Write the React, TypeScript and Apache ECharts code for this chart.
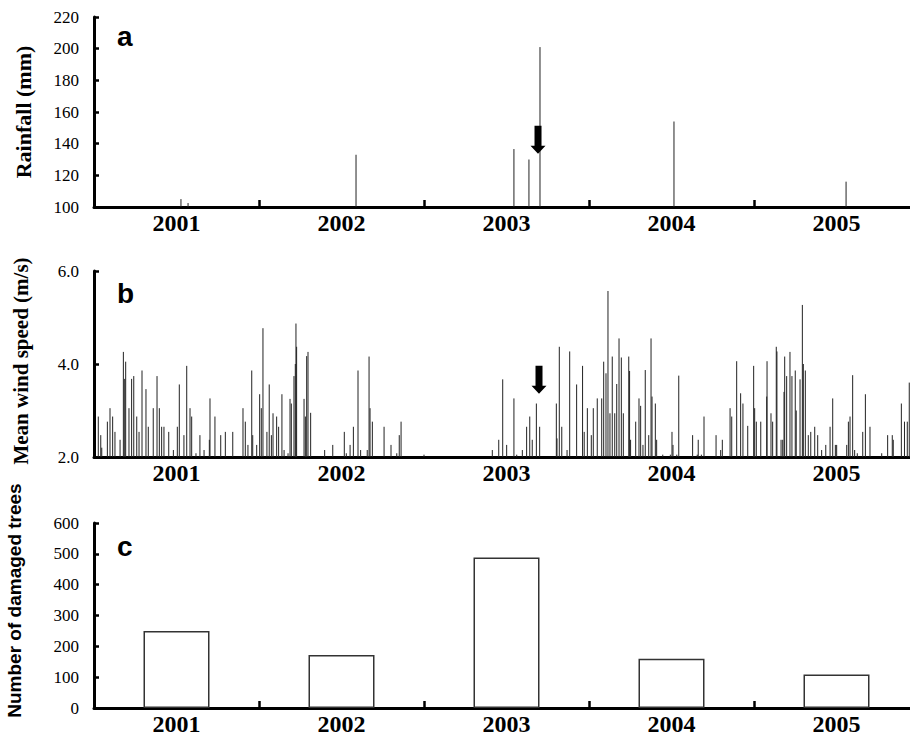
import React, { useEffect, useRef } from "react";
import * as echarts from "echarts";

// ---------- DATA ----------
const yearLabels = ["2001", "2002", "2003", "2004", "2005"];

// Panel a: daily rainfall above 100 mm (decimal year, mm)
const rainfallDates = [2001.527, 2001.57, 2002.588, 2003.545, 2003.636, 2003.703, 2004.515, 2005.558];
const rainfallValues = [105, 102.5, 133, 136.6, 130, 201, 154, 116];

// Panel b: daily mean wind speed above 2.0 m/s (decimal year, m/s)
const windDates = [
  2001.026, 2001.041, 2001.047, 2001.081, 2001.097, 2001.113, 2001.127, 2001.158, 2001.178, 2001.186,
  2001.192, 2001.212, 2001.228, 2001.241, 2001.259, 2001.273, 2001.291, 2001.315, 2001.329, 2001.359,
  2001.382, 2001.396, 2001.41, 2001.424, 2001.453, 2001.481, 2001.505, 2001.517, 2001.545, 2001.562,
  2001.582, 2001.592, 2001.618, 2001.642, 2001.667, 2001.699, 2001.703, 2001.733, 2001.768, 2001.796,
  2001.841, 2001.903, 2001.917, 2001.933, 2001.956, 2001.962, 2001.986, 2002.004, 2002.014, 2002.024,
  2002.048, 2002.062, 2002.075, 2002.085, 2002.107, 2002.119, 2002.139, 2002.152, 2002.176, 2002.188,
  2002.196, 2002.212, 2002.22, 2002.224, 2002.228, 2002.273, 2002.281, 2002.289, 2002.297, 2002.313,
  2002.398, 2002.447, 2002.517, 2002.529, 2002.552, 2002.572, 2002.6, 2002.616,
  2002.656, 2002.667, 2002.673, 2002.687, 2002.758, 2002.8, 2002.835, 2002.85, 2002.861, 2003.0,
  2003.414, 2003.453, 2003.477,
  2003.501, 2003.545, 2003.562, 2003.596, 2003.622, 2003.641, 2003.656, 2003.681, 2003.701, 2003.802,
  2003.806, 2003.82, 2003.835, 2003.867, 2003.883, 2003.925, 2003.961, 2003.971, 2003.99, 2004.014,
  2004.026, 2004.05, 2004.077, 2004.089, 2004.103, 2004.115, 2004.127, 2004.141, 2004.156, 2004.168,
  2004.182, 2004.196, 2004.208, 2004.241, 2004.246, 2004.252, 2004.283, 2004.303, 2004.313,
  2004.327, 2004.341, 2004.362, 2004.376, 2004.382, 2004.402, 2004.41, 2004.447, 2004.493, 2004.503,
  2004.509, 2004.532, 2004.544, 2004.628, 2004.656, 2004.662, 2004.681, 2004.697, 2004.77, 2004.798,
  2004.808, 2004.855, 2004.865, 2004.895, 2004.919, 2004.933, 2004.962, 2004.998, 2005.004, 2005.014,
  2005.041, 2005.077, 2005.079, 2005.103, 2005.113, 2005.135, 2005.139,
  2005.164, 2005.174, 2005.182, 2005.186, 2005.198, 2005.218, 2005.23, 2005.25, 2005.256, 2005.279,
  2005.293, 2005.299, 2005.311, 2005.329, 2005.344, 2005.368, 2005.386, 2005.41, 2005.435, 2005.461,
  2005.477, 2005.493, 2005.501, 2005.562, 2005.572, 2005.582, 2005.598, 2005.61, 2005.626, 2005.659,
  2005.675, 2005.703, 2005.774, 2005.81, 2005.838, 2005.844, 2005.893, 2005.912, 2005.929, 2005.941,
];
const windValues = [
  2.87, 2.47, 2.2, 2.76, 3.05, 2.87, 2.54, 2.37, 4.26, 3.68,
  4.05, 3.05, 3.68, 3.74, 2.87, 2.54, 3.86, 3.46, 2.65, 3.05,
  3.74, 3.05, 2.65, 2.65, 2.54, 2.15, 2.65, 3.56, 2.47, 3.96,
  3.05, 2.87, 2.08, 2.47, 2.15, 2.37, 3.26, 2.87, 2.47, 2.54,
  2.54, 3.05, 2.76, 2.26, 3.86, 2.47, 2.26, 3.35, 3.05, 4.77,
  2.54, 3.56, 2.47, 2.94, 2.87, 2.65, 3.35, 2.15, 2.08, 3.25,
  3.15, 3.74, 4.0, 4.87, 4.37, 3.25, 2.87, 4.17, 4.26, 2.95,
  2.15, 2.26, 2.54, 2.08, 2.26, 2.65, 3.86, 2.15,
  2.15, 4.16, 3.05, 2.76, 2.65, 2.26, 2.08, 2.47, 2.76, 2.05,
  2.15, 2.37, 3.67,
  2.26, 3.26, 2.05, 2.15, 2.65, 2.87, 2.37, 3.15, 2.65, 3.15,
  2.4, 4.37, 2.65, 2.15, 4.27, 3.56, 3.96, 2.54, 3.05, 2.47,
  3.05, 3.26, 3.26, 4.05, 3.8, 5.57, 2.94, 4.16, 2.94, 3.57,
  4.55, 4.14, 2.94, 4.16, 3.85, 2.37, 2.76, 3.26, 3.1,
  2.26, 3.87, 2.47, 4.55, 3.3, 3.15, 2.37, 2.05, 2.05, 2.54,
  2.26, 2.05, 3.75, 2.47, 2.05, 2.37, 2.05, 2.87, 2.47, 2.15,
  2.37, 3.05, 2.87, 4.06, 3.37, 3.15, 2.67, 3.96, 3.05, 2.76,
  2.76, 3.3, 4.06, 2.94, 2.76, 4.37, 4.27,
  2.37, 2.37, 3.4, 4.16, 3.74, 4.26, 3.74, 3.86, 3.0, 3.67,
  5.27, 4.0, 3.86, 2.47, 2.54, 2.65, 2.47, 2.15, 2.26, 2.65,
  3.26, 2.26, 2.26, 2.26, 2.76, 2.87, 3.76, 2.15, 2.08, 2.54,
  3.35, 2.65, 2.08, 2.47, 2.47, 2.37, 3.15, 2.76, 2.76, 3.6,
];

// Panel c: number of damaged trees per year
const damagedTrees = [250, 172, 488, 160, 109];

// Arrows (tip position, decimal year and axis value)
const arrowA = [2003.691, 133.7];
const arrowB = [2003.697, 3.36];

// ---------- HELPERS ----------
const SERIF = "'Liberation Serif', 'Times New Roman', serif";
const SANS = "'Liberation Sans', Arial, sans-serif";

function spikeSeries(xAxisIndex: number, yAxisIndex: number, dates: number[], values: number[], base: number) {
  return {
    type: "custom",
    xAxisIndex,
    yAxisIndex,
    clip: true,
    data: dates.map((d, i) => [d, values[i]]),
    encode: { x: 0, y: 1 },
    renderItem: (_params: any, api: any) => {
      const top = api.coord([api.value(0), api.value(1)]);
      const bottom = api.coord([api.value(0), base]);
      return {
        type: "line",
        shape: { x1: top[0], y1: top[1], x2: bottom[0], y2: bottom[1] },
        style: { stroke: "#222", lineWidth: 1 },
      };
    },
  };
}

function arrowSeries(xAxisIndex: number, yAxisIndex: number, tip: number[]) {
  return {
    type: "custom",
    xAxisIndex,
    yAxisIndex,
    data: [tip],
    encode: { x: 0, y: 1 },
    z: 5,
    renderItem: (_params: any, api: any) => {
      const p = api.coord([api.value(0), api.value(1)]);
      const cx = p[0];
      const ty = p[1];
      return {
        type: "polygon",
        shape: {
          points: [
            [cx - 3.5, ty - 28],
            [cx + 3.5, ty - 28],
            [cx + 3.5, ty - 8],
            [cx + 7.5, ty - 8],
            [cx, ty],
            [cx - 7.5, ty - 8],
            [cx - 3.5, ty - 8],
          ],
        },
        style: { fill: "#000" },
      };
    },
  };
}

function catAxis(gridIndex: number, showTicks: boolean) {
  return {
    type: "category",
    gridIndex,
    data: yearLabels,
    boundaryGap: true,
    axisLine: { show: true, lineStyle: { color: "#000", width: 3 } },
    axisTick: { show: showTicks, inside: true, length: 7, lineStyle: { color: "#000", width: 2.5 } },
    axisLabel: {
      color: "#000",
      fontFamily: SERIF,
      fontWeight: "bold",
      fontSize: 24,
      margin: 4,
    },
    splitLine: { show: false },
  };
}

function timeAxis(gridIndex: number) {
  return { type: "value", gridIndex, min: 2001, max: 2006, show: false };
}

function valAxis(
  gridIndex: number,
  min: number,
  max: number,
  interval: number,
  name: string,
  nameFont: string,
  nameSize: number,
  nameGap: number,
  namePadding: number[],
  fmt?: (v: number) => string
) {
  return {
    type: "value",
    gridIndex,
    min,
    max,
    interval,
    name,
    nameLocation: "middle",
    nameRotate: 90,
    nameGap,
    nameTextStyle: {
      color: "#000",
      fontFamily: nameFont,
      fontWeight: "bold",
      fontSize: nameSize,
      padding: namePadding,
    },
    axisLine: { show: true, lineStyle: { color: "#000", width: 3 } },
    axisTick: { show: true, inside: true, length: 5, lineStyle: { color: "#000", width: 2.5 } },
    axisLabel: {
      color: "#000",
      fontFamily: SERIF,
      fontSize: 17,
      margin: 15,
      formatter: fmt ? (v: number) => fmt(v) : undefined,
    },
    splitLine: { show: false },
  };
}

export default function App() {
  const ref = useRef<HTMLDivElement>(null);

  useEffect(() => {
    if (!ref.current) return;
    const chart = echarts.init(ref.current, undefined, { renderer: "svg" });
    const option: any = {
      animation: false,
      backgroundColor: "#fff",
      grid: [
        { left: 94, width: 825, top: 17, height: 190, outerBoundsMode: "none", containLabel: false },
        { left: 94, width: 825, top: 271, height: 186, outerBoundsMode: "none", containLabel: false },
        { left: 94, width: 825, top: 523, height: 185, outerBoundsMode: "none", containLabel: false },
      ],
      xAxis: [
        catAxis(0, true),
        timeAxis(0),
        catAxis(1, false),
        timeAxis(1),
        catAxis(2, true),
      ],
      yAxis: [
        valAxis(0, 100, 220, 20, "Rainfall (mm)", SERIF, 22, 60, [0, 0, 0, 0]),
        valAxis(1, 2, 6, 2, "Mean wind speed (m/s)", SERIF, 21, 63, [0, 0, 0, 6], (v) => v.toFixed(1)),
        valAxis(2, 0, 600, 100, "Number of damaged trees", SANS, 19, 70, [0, 0, 0, 30]),
      ],
      series: [
        spikeSeries(1, 0, rainfallDates, rainfallValues, 100),
        arrowSeries(1, 0, arrowA),
        spikeSeries(3, 1, windDates, windValues, 2),
        arrowSeries(3, 1, arrowB),
        {
          type: "bar",
          xAxisIndex: 4,
          yAxisIndex: 2,
          data: damagedTrees,
          barWidth: 66,
          itemStyle: { color: "#fff", borderColor: "#333", borderWidth: 1.5 },
        },
      ],
      graphic: [
        { type: "text", left: 117, top: 22, style: { text: "a", font: `bold 28px ${SANS}`, fill: "#000" } },
        { type: "text", left: 117, top: 279, style: { text: "b", font: `bold 28px ${SANS}`, fill: "#000" } },
        { type: "text", left: 117, top: 532, style: { text: "c", font: `bold 28px ${SANS}`, fill: "#000" } },
      ],
    };
    chart.setOption(option);
    return () => chart.dispose();
  }, []);

  return (
    <div
      ref={ref}
      style={{ position: "fixed", left: 0, top: 0, width: 910, height: 746, background: "#fff" }}
    />
  );
}
